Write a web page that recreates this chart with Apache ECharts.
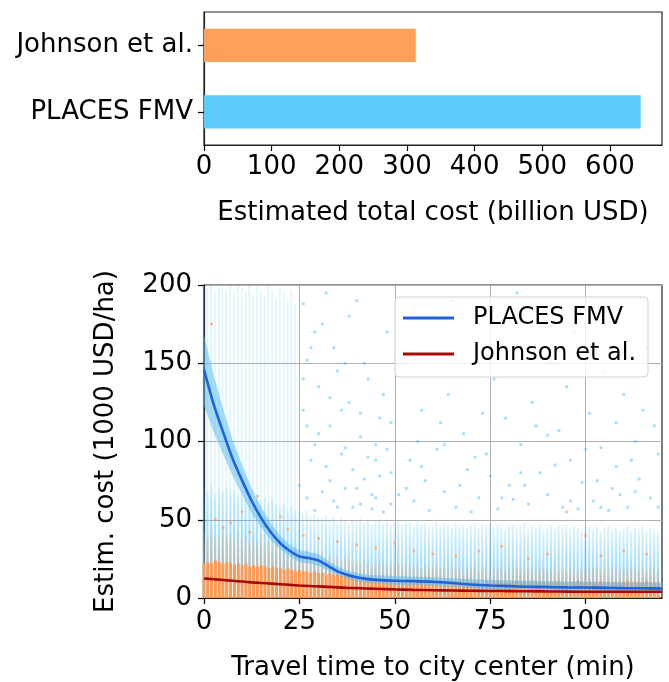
<!DOCTYPE html>
<html>
<head>
<meta charset="utf-8">
<script src="https://cdn.jsdelivr.net/npm/echarts@6/dist/echarts.min.js"></script>
<style>
  html, body { margin : 0; padding : 0; background : #fff; }
  #chart { width : 669px; height : 682px; }
</style>
</head>
<body>
<div id="chart"></div>
<script>
// ---------------------- BEGIN DATA ---------------------
// top panel : total cost per source
var sourceNames = ['PLACES FMV', 'Johnson et al.'];
var totalCost   = [645.5, 313];
var costTicks   = [0, 100, 200, 300, 400, 500, 600];

// bottom panel : fitted curves (travel time in min)
var fitX = [0, 2.5, 5, 7.5, 10, 12.5, 15, 17.5, 20, 22.5, 25, 27.5, 30, 32.5,
  35, 37.5, 40, 42.5, 45, 50, 55, 60, 65, 70, 75, 80, 85, 90, 95, 100, 105,
  110, 115, 120];
var placesMean = [146, 124, 106, 89, 75, 62, 51, 42, 35, 30, 26.5, 25.5, 24,
  20.5, 17, 14.8, 13.2, 12.2, 11.6, 11, 10.8, 10.4, 9.6, 8.6, 8, 7.6, 7.2, 7,
  6.8, 6.7, 6.5, 6.3, 6.2, 6.1];
var placesLow = [123, 106, 92, 78, 66, 54, 45, 37, 31, 26.5, 23, 22, 20.5,
  17.5, 14.3, 12.2, 10.6, 9.6, 9, 8.4, 8.2, 7.8, 7, 6.1, 5.5, 5, 4.7, 4.5,
  4.3, 4.2, 4, 3.8, 3.7, 3.6];
var placesHigh = [168, 143, 121, 101, 85, 70, 58, 48, 40, 34, 30.5, 29.5, 28,
  24, 20, 17.5, 16, 15, 14.5, 14, 13.6, 13.2, 12.6, 12, 11.6, 11.3, 11, 10.8,
  10.6, 10.5, 10.3, 10.1, 10, 9.9];
var johnsonMean = [12.5, 12, 11.5, 11, 10.5, 10, 9.6, 9.2, 8.8, 8.4, 8, 7.7,
  7.4, 7.1, 6.8, 6.5, 6.3, 6.1, 5.9, 5.5, 5.2, 5, 4.8, 4.6, 4.5, 4.4, 4.3,
  4.2, 4.1, 4, 4, 4, 4, 4];
var timeTicks = [0, 25, 50, 75, 100];

// bottom panel : scatter clouds, one column per minute (0..119)
var orangeDense = [
  22, 23, 22, 24, 23, 22, 23, 22, 21, 22,  21, 22, 20, 21, 20, 21, 20, 19, 20, 19,
  19, 18, 19, 18, 17, 18, 17, 17, 16, 17,  16, 16, 15, 16, 15, 15, 14, 15, 14, 14,
  14, 13, 14, 13, 13, 13, 12, 13, 12, 12,  12, 12, 11, 12, 11, 12, 11, 11, 12, 11,
  11, 11, 11, 10, 11, 11, 10, 11, 10, 11,  10, 11, 10, 10, 11, 10, 10, 11, 10, 10,
  10, 10, 11, 10, 10, 10, 11, 10, 10, 10,  10, 10, 10, 11, 10, 10, 10, 10, 11, 10,
  10, 10, 10, 10, 11, 10, 10, 10, 10, 10,  10, 11, 10, 10, 10, 10, 11, 10, 10, 10];
var orangeFaint = [
  42, 38, 45, 40, 36, 44, 39, 41, 37, 43,  38, 40, 35, 39, 36, 41, 34, 37, 33, 36,
  35, 32, 34, 31, 33, 30, 29, 31, 28, 30,  27, 29, 26, 28, 25, 27, 24, 26, 25, 23,
  24, 22, 25, 23, 21, 24, 22, 23, 21, 22,  21, 23, 20, 22, 21, 20, 22, 19, 21, 20,
  20, 22, 19, 21, 20, 19, 21, 20, 18, 20,  19, 21, 18, 20, 19, 20, 18, 19, 21, 18,
  19, 18, 20, 19, 18, 20, 19, 18, 19, 20,  18, 19, 20, 18, 19, 18, 20, 19, 18, 19,
  19, 18, 19, 20, 18, 19, 18, 19, 20, 18,  19, 18, 20, 19, 18, 19, 18, 20, 19, 18];
var blueLow = [
  70, 68, 72, 66, 70, 68, 71, 67, 69, 65,  66, 64, 67, 63, 65, 62, 64, 61, 63, 60,
  58, 60, 57, 59, 56, 55, 54, 56, 52, 54,  52, 51, 53, 50, 52, 49, 51, 50, 48, 50,
  49, 51, 48, 50, 47, 49, 50, 48, 49, 47,  48, 50, 47, 49, 48, 46, 49, 47, 48, 46,
  47, 49, 46, 48, 47, 45, 48, 46, 47, 45,  46, 48, 45, 47, 46, 48, 45, 47, 46, 44,
  46, 47, 45, 46, 48, 44, 46, 45, 47, 44,  45, 47, 44, 46, 45, 47, 44, 46, 45, 43,
  45, 46, 44, 46, 43, 45, 46, 44, 45, 43,  44, 46, 43, 45, 44, 46, 43, 45, 44, 42];
var blueHigh = [200, 198, 200, 196, 200, 199, 197, 200, 195, 200, 198, 196, 200,
  194, 199, 197, 193, 200, 196, 192, 198, 195, 190, 197, 188];

// sparse points above the dense clouds [min, cost]
var blueSparse = [
  [26, 188], [27, 152], [28, 160], [26, 120], [29, 98], [30, 135], [31, 175],
  [32, 84], [33, 110], [34, 62], [35, 145], [36, 92], [37, 70], [38, 125],
  [39, 58], [40, 190], [41, 103], [42, 76], [43, 140], [44, 66], [45, 88],
  [46, 115], [47, 55], [48, 170], [49, 80], [25, 72], [27, 64], [29, 56],
  [31, 68], [33, 75], [35, 58], [37, 96], [39, 82], [41, 60], [43, 90],
  [45, 64], [47, 130], [49, 60], [30, 105], [34, 160], [38, 180], [42, 150],
  [46, 78], [28, 88], [36, 120], [44, 57], [26, 140], [32, 195], [40, 70],
  [48, 95], [52, 150], [54, 88], [55, 62], [57, 120], [58, 75], [60, 180],
  [61, 95], [63, 68], [64, 130], [66, 58], [68, 105], [69, 82], [71, 160],
  [72, 64], [74, 92], [76, 140], [77, 57], [79, 115], [80, 72], [82, 195],
  [83, 98], [85, 60], [86, 125], [88, 80], [90, 66], [91, 150], [93, 107],
  [94, 58], [96, 88], [97, 170], [99, 74], [101, 118], [102, 62], [104, 96],
  [105, 145], [107, 70], [108, 84], [110, 130], [111, 58], [113, 100],
  [114, 76], [116, 160], [117, 64], [119, 92], [53, 70], [59, 56], [65, 190],
  [70, 55], [75, 78], [81, 63], [87, 110], [92, 85], [98, 57], [103, 75],
  [109, 66], [115, 120], [118, 110], [56, 100], [62, 112], [73, 118], [84, 72],
  [89, 178], [95, 135], [100, 95], [106, 56], [112, 88], [27, 110], [29, 170],
  [33, 128], [37, 150], [41, 118], [45, 98], [49, 112], [51, 66], [57, 84],
  [63, 98], [67, 72], [71, 90], [78, 64], [83, 80], [90, 104], [96, 62],
  [104, 58], [108, 112], [113, 68], [119, 58]];
var orangeSparse = [
  [2, 175], [8, 85], [14, 65], [20, 52], [5, 45], [12, 42], [30, 38], [40, 34],
  [55, 30], [78, 33], [95, 55], [60, 28], [85, 25], [110, 30], [100, 40],
  [3, 50], [7, 48], [10, 55], [16, 46], [22, 44], [26, 40], [35, 36],
  [45, 32], [50, 35], [66, 27], [72, 30], [90, 28], [104, 27], [116, 28]];
// ----------------------- END DATA ----------------------

var chartMod = (function () {
  var
    FONT = 'DejaVu Sans', FSIZE = 26,
    BLUE_LINE = '#1f62e0', RED_LINE = '#a80808',
    makeColumns, makeXY, renderBand, buildOption, initModule
  ;

  // Begin utility /makeColumns/ - one [minute, height] pair per column
  makeColumns = function (heights) {
    var i, out = [];
    for (i = 0; i < heights.length; i++) { out.push([i, heights[i]]); }
    return out;
  };

  makeXY = function (xs, ys) {
    return xs.map(function (x, i) { return [x, ys[i]]; });
  };

  // Begin render /renderBand/ - confidence band polygon, drawn once
  renderBand = function (params, api) {
    var i, pts = [];
    if (params.dataIndex !== 0) { return null; }
    for (i = 0; i < fitX.length; i++) {
      pts.push(api.coord([fitX[i], placesHigh[i]]));
    }
    for (i = fitX.length - 1; i >= 0; i--) {
      pts.push(api.coord([fitX[i], placesLow[i]]));
    }
    return {
      type : 'polygon',
      shape : { points : pts },
      style : { fill : 'rgba(95,190,240,0.55)' }
    };
  };

  buildOption = function () {
    var
      tickLine = { color : '#000', width : 1.2 },
      aLine = { show : true, lineStyle : { color : '#222', width : 1.2 } },
      label = { fontFamily : FONT, fontSize : FSIZE, color : '#000' },
      split = { show : true, lineStyle : { color : '#b0b0b0', width : 1 } },
      stripeBar = function (name, heights, color, z, w) {
        return {
          name : name, type : 'bar', xAxisIndex : 1, yAxisIndex : 1,
          barWidth : w, barGap : '-100%', z : z, silent : true,
          itemStyle : { color : color },
          data : makeColumns(heights)
        };
      },
      grad = function (top, bottom) {
        return new echarts.graphic.LinearGradient(0, 0, 0, 1, [
          { offset : 0, color : top }, { offset : 1, color : bottom }
        ]);
      };

    return {
      backgroundColor : '#fff',
      animation : false,
      textStyle : { fontFamily : FONT },
      grid : [
        { left : 204, top : 12, width : 458, height : 133,
          show : true, borderColor : '#222', borderWidth : 1.2 },
        { left : 204, top : 285, width : 458, height : 313,
          show : true, borderColor : '#222', borderWidth : 1.2 }
      ],
      xAxis : [
        {
          gridIndex : 0, type : 'value', min : 0, max : 677,
          axisLine : aLine,
          axisTick : { show : true, length : 6, customValues : costTicks,
            lineStyle : tickLine },
          axisLabel : Object.assign({ margin : 9, customValues : costTicks }, label),
          splitLine : { show : false },
          name : 'Estimated total cost (billion USD)',
          nameLocation : 'middle', nameGap : 55, nameTextStyle : label
        },
        {
          gridIndex : 1, type : 'value', min : 0, max : 120, interval : 25,
          axisLine : aLine,
          axisTick : { show : true, length : 6, customValues : timeTicks,
            lineStyle : tickLine },
          axisLabel : Object.assign({ margin : 11, customValues : timeTicks }, label),
          splitLine : split,
          name : 'Travel time to city center (min)',
          nameLocation : 'middle', nameGap : 57, nameTextStyle : label
        }
      ],
      yAxis : [
        {
          gridIndex : 0, type : 'category', data : sourceNames,
          axisLine : aLine,
          axisTick : { show : true, length : 6, alignWithLabel : true,
            lineStyle : tickLine },
          axisLabel : Object.assign({ margin : 11 }, label),
          splitLine : { show : false }
        },
        {
          gridIndex : 1, type : 'value', min : 0, max : 200, interval : 50,
          axisLine : aLine,
          axisTick : { show : true, length : 6, lineStyle : tickLine },
          axisLabel : Object.assign({ margin : 12 }, label),
          splitLine : split,
          name : 'Estim. cost (1000 USD/ha)',
          nameLocation : 'middle', nameGap : 85, nameTextStyle : label
        }
      ],
      legend : {
        data : ['PLACES FMV', 'Johnson et al.'],
        left : 395, top : 297, orient : 'vertical',
        icon : 'rect', itemWidth : 51, itemHeight : 3, itemGap : 6,
        padding : [6, 12, 8, 8],
        backgroundColor : 'rgba(255,255,255,0.8)',
        borderColor : '#d0d0d0', borderWidth : 1, borderRadius : 4,
        textStyle : { fontFamily : FONT, fontSize : 24, color : '#000',
          lineHeight : 30, padding : [0, 0, 0, 14] }
      },
      series : [
        // top panel bars
        {
          type : 'bar', xAxisIndex : 0, yAxisIndex : 0, barWidth : '50%',
          data : [
            { value : totalCost[0], itemStyle : { color : '#5bcbfa' } },
            { value : totalCost[1], itemStyle : { color : '#ffa05a' } }
          ]
        },
        // blue scatter cloud
        stripeBar('blueHigh', blueHigh, 'rgba(70,190,245,0.16)', 1, 1.8),
        stripeBar('blueLow', blueLow,
          grad('rgba(60,185,245,0.15)', 'rgba(60,185,245,0.75)'), 1, 2.2),
        {
          name : 'blueSparse', type : 'scatter', xAxisIndex : 1, yAxisIndex : 1,
          symbol : 'rect', symbolSize : 2.8, z : 2, silent : true,
          itemStyle : { color : 'rgba(80,190,245,0.65)' },
          data : blueSparse
        },
        // orange scatter cloud
        stripeBar('orangeFaint', orangeFaint,
          grad('rgba(255,150,75,0.15)', 'rgba(255,150,75,0.6)'), 3, 2.4),
        stripeBar('orangeDense', orangeDense, 'rgba(255,152,80,1)', 3, 2.8),
        {
          name : 'orangeSparse', type : 'scatter', xAxisIndex : 1, yAxisIndex : 1,
          symbol : 'rect', symbolSize : 2.8, z : 3, silent : true,
          itemStyle : { color : 'rgba(255,150,75,0.75)' },
          data : orangeSparse
        },
        // confidence band of PLACES FMV
        {
          name : 'placesBand', type : 'custom', xAxisIndex : 1, yAxisIndex : 1,
          z : 4, silent : true, clip : true,
          renderItem : renderBand,
          encode : { x : 0, y : 1 },
          data : makeXY(fitX, placesMean)
        },
        // fitted means
        {
          name : 'Johnson et al.', type : 'line', xAxisIndex : 1, yAxisIndex : 1,
          symbol : 'none', smooth : 0.3, z : 5,
          lineStyle : { color : RED_LINE, width : 2.6 },
          itemStyle : { color : RED_LINE },
          data : makeXY(fitX, johnsonMean)
        },
        {
          name : 'PLACES FMV', type : 'line', xAxisIndex : 1, yAxisIndex : 1,
          symbol : 'none', smooth : 0.3, z : 5,
          lineStyle : { color : BLUE_LINE, width : 2.6 },
          itemStyle : { color : BLUE_LINE },
          data : makeXY(fitX, placesMean)
        }
      ]
    };
  };

  initModule = function (el) {
    var chart = echarts.init(el, null, { renderer : 'canvas' });
    chart.setOption(buildOption());
  };

  return { initModule : initModule };
}());

chartMod.initModule(document.getElementById('chart'));
</script>
</body>
</html>
